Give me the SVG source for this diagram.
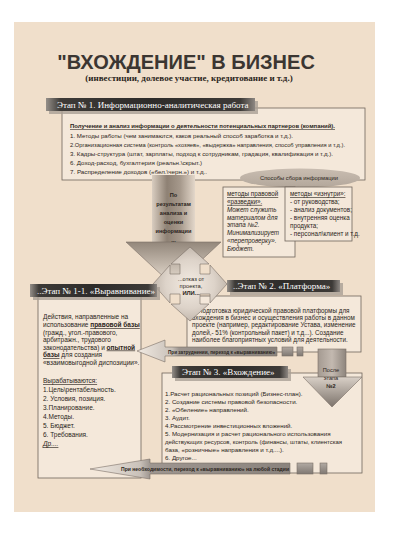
<svg xmlns="http://www.w3.org/2000/svg" width="416" height="554" viewBox="0 0 416 554">
<defs>
<style>
.t{font-family:"Liberation Sans","DejaVu Sans",sans-serif;fill:#2b2520}
.hd{font-family:"Liberation Serif","DejaVu Serif",serif;font-size:9px;fill:#ffffff}
.box{fill:#f4e8da;stroke:#6f645b;stroke-width:0.8}
.shadow{fill:#a99f95;opacity:0.8}
.bar{fill:url(#barG)}
.u{text-decoration:underline}
.b{font-weight:bold}
.i{font-style:italic}
.arr{stroke:#7a6f66;stroke-width:0.6}
</style>
<linearGradient id="barG" x1="0" y1="0" x2="1" y2="0">
<stop offset="0" stop-color="#958f89"/>
<stop offset="0.07" stop-color="#3d3a37"/>
<stop offset="0.5" stop-color="#2e2c2a"/>
<stop offset="0.93" stop-color="#3d3a37"/>
<stop offset="1" stop-color="#8d8782"/>
</linearGradient>
<linearGradient id="shaftG" x1="0" y1="0" x2="1" y2="0">
<stop offset="0" stop-color="#d9cdc0"/>
<stop offset="0.35" stop-color="#8e8174"/>
<stop offset="0.65" stop-color="#a5988b"/>
<stop offset="1" stop-color="#e3d7ca"/>
</linearGradient>
<linearGradient id="headG" x1="0" y1="0" x2="0" y2="1">
<stop offset="0" stop-color="#93877b"/>
<stop offset="1" stop-color="#efe5d9"/>
</linearGradient>
<linearGradient id="head2G" x1="0" y1="0" x2="0" y2="1">
<stop offset="0" stop-color="#d9d0c7"/>
<stop offset="1" stop-color="#7c736b"/>
</linearGradient>
<linearGradient id="shaft2G" x1="0" y1="0" x2="1" y2="0">
<stop offset="0" stop-color="#a49a91"/>
<stop offset="0.5" stop-color="#c3b9b0"/>
<stop offset="1" stop-color="#8e857d"/>
</linearGradient>
<linearGradient id="leftG" x1="0" y1="0" x2="1" y2="0">
<stop offset="0" stop-color="#f2ebe3"/>
<stop offset="0.25" stop-color="#c9c1b9"/>
<stop offset="0.3" stop-color="#9e9690"/>
<stop offset="1" stop-color="#8a837d"/>
</linearGradient>
<radialGradient id="crossG" cx="0.5" cy="0.5" r="0.6">
<stop offset="0" stop-color="#f3ebe2"/>
<stop offset="0.55" stop-color="#ddd3c9"/>
<stop offset="1" stop-color="#b4a99e"/>
</radialGradient>
<linearGradient id="ellG" x1="0" y1="0" x2="0" y2="1">
<stop offset="0" stop-color="#c9bdb1"/>
<stop offset="1" stop-color="#b3a79b"/>
</linearGradient>
<linearGradient id="sqG" x1="0" y1="0" x2="0" y2="1">
<stop offset="0" stop-color="#b2aaa3"/>
<stop offset="1" stop-color="#7f7872"/>
</linearGradient>
</defs>

<rect x="14" y="22" width="361" height="490" fill="#f0dfcb"/>

<g id="title">
<text class="t b" x="186" y="69" font-size="20" text-anchor="middle" style="fill:#3b3632">"ВХОЖДЕНИЕ" В БИЗНЕС</text>
<text x="189" y="81" font-family="Liberation Serif, DejaVu Serif, serif" font-weight="bold" font-size="9" text-anchor="middle" fill="#2b2520">(инвестиции, долевое участие, кредитование и т.д.)</text>
</g>

<g id="stage1">
<rect class="box" x="62" y="108" width="303" height="72"/>
<rect class="shadow" x="49" y="101" width="209" height="13"/>
<rect class="bar" x="46" y="98" width="209" height="13"/>
<text class="hd" x="57" y="108">Этап № 1. Информационно-аналитическая работа</text>
<g class="t" font-size="5.8">
<text class="b u" x="70" y="128" textLength="265" lengthAdjust="spacingAndGlyphs">Получение и анализ  информации о деятельности потенциальных партнеров (компаний).</text>
<text x="70" y="137.5" textLength="223" lengthAdjust="spacingAndGlyphs">1. Методы работы (чем занимаются, каков реальный способ заработка и т.д.).</text>
<text x="70" y="147" textLength="275" lengthAdjust="spacingAndGlyphs">2.Организационная система (контроль «хозяев», «выдержка» направления, способ управления и т.д.).</text>
<text x="70" y="156" textLength="263" lengthAdjust="spacingAndGlyphs">3. Кадры-структура (штат, зарплаты, подход к сотрудникам, градация, квалификация и т.д.).</text>
<text x="70" y="165" textLength="132" lengthAdjust="spacingAndGlyphs">6. Доход-расход, бухгалтерия (реальн.\скрыт.)</text>
<text x="70" y="173.5" textLength="137" lengthAdjust="spacingAndGlyphs">7. Распределение доходов («бел.\черн.») и т.д..</text>
</g>
</g>

<g id="methods-label">
<ellipse cx="300" cy="178" rx="60" ry="9.5" fill="url(#ellG)"/>
<text class="t" x="299" y="180" font-size="5.8" text-anchor="middle">Способы сбора информации</text>
</g>

<g id="methods-legal">
<rect class="box" x="223" y="187" width="72" height="70"/>
<g class="t" font-size="6.3">
<text class="u" x="227" y="196">методы правовой</text>
<text class="u" x="227" y="203.9">«разведки».</text>
<text class="i" x="227" y="211.7">Может служить</text>
<text class="i" x="227" y="219.6">материалом для</text>
<text class="i" x="227" y="227.4">этапа №2.</text>
<text class="i" x="227" y="235.3">Минимализирует</text>
<text class="i" x="227" y="243.1">«перепроверку».</text>
<text class="i" x="227" y="251">Бюджет.</text>
</g>
</g>

<g id="methods-inside">
<rect class="box" x="285" y="187" width="67" height="54"/>
<g class="t" font-size="6.3">
<text class="u" x="290" y="196">методы «изнутри»:</text>
<text x="290" y="204">- от руководства;</text>
<text x="290" y="212">- анализ документов;</text>
<text x="290" y="220">- внутренняя оценка</text>
<text x="290" y="228">продукта;</text>
<text x="290" y="236">- персонал\клиент и т.д.</text>
</g>
</g>

<g id="stage1-1">
<rect class="box" x="38" y="292" width="103" height="186"/>
<g class="t" font-size="6.5">
<text x="43" y="319">Действия, направленные на</text>
<text x="43" y="327">использование <tspan class="b u">правовой базы</tspan></text>
<text x="43" y="334.5">(гражд., угол.-правового,</text>
<text x="43" y="342">арбитражн., трудового</text>
<text x="43" y="349.5">законодательства) и <tspan class="b u">опытной</tspan></text>
<text x="43" y="357"><tspan class="b u">базы</tspan>  для создания</text>
<text x="43" y="365">«взаимовыгодной диспозиции».</text>
<text class="u" x="43" y="383">Вырабатываются:</text>
<text x="43" y="392">1.Цель\рентабельность.</text>
<text x="43" y="401">2. Условия, позиция.</text>
<text x="43" y="410">3.Планирование.</text>
<text x="43" y="419">4.Методы.</text>
<text x="43" y="428">5. Бюджет.</text>
<text x="43" y="437">6. Требования.</text>
<text class="u i" x="43" y="446">Др....</text>
</g>
</g>

<g id="stage2">
<rect class="box" x="187" y="296" width="174" height="56"/>
<g class="t" font-size="6.3">
<text x="198" y="312.7">Подготовка юридической правовой платформы для</text>
<text x="192" y="320">вхождения в бизнес и осуществления работы в данном</text>
<text x="192" y="327.2">проекте (например, редактирование Устава, изменение</text>
<text x="192" y="334.5">долей,- 51% (контрольный пакет) и т.д...). Создание</text>
<text x="192" y="341.7">наиболее благоприятных условий для деятельности.</text>
</g>
</g>

<g id="stage3">
<rect class="box" x="162" y="373" width="200" height="100"/>
<g class="t" font-size="6.2">
<text x="165" y="396">1.Расчет рациональных позиций (Бизнес-план).</text>
<text x="165" y="404">2. Создание системы правовой безопасности.</text>
<text x="165" y="412">2. «Обеление» направлений.</text>
<text x="165" y="420">3. Аудит.</text>
<text x="165" y="428">4.Рассмотрение инвестиционных вложений.</text>
<text x="165" y="436">5. Модернизация и расчет рационального использования</text>
<text x="165" y="444" textLength="177" lengthAdjust="spacingAndGlyphs">действующих ресурсов, контроль (финансы, штаты, клиентская</text>
<text x="165" y="452">база, «розничные» направления и т.д....).</text>
<text x="165" y="460">6. Другое...</text>
</g>
</g>

<g id="connectors">
<g id="arrow-results">
<rect x="152" y="175" width="43" height="68" fill="url(#shaftG)"/>
<polygon points="126,242 221,242 173.5,286" fill="url(#headG)" class="arr"/>
<g class="t b" font-size="5.6" text-anchor="middle">
<text x="173.5" y="197">По</text>
<text x="173.5" y="206">результатам</text>
<text x="173.5" y="215">анализа  и</text>
<text x="173.5" y="224">оценки</text>
<text x="173.5" y="233">информации</text>
<text x="173.5" y="242">...</text>
</g>
</g>
<g id="arrow-refuse">
<polygon points="190,247 209,264 200,264 200,274 210,274 210,265 227,284 210,303 210,294 200,294 200,304 209,304 190,321 171,304 180,304 180,294 170,294 170,303 153,284 170,265 170,274 180,274 180,264 171,264" fill="url(#crossG)" class="arr"/>
<g class="t" font-size="5.8" text-anchor="middle">
<text x="191" y="281">...отказ от</text>
<text x="191" y="288">проекта,</text>
<text class="b" x="191" y="295">ИЛИ...</text>
</g>
</g>
<g id="arrow-difficulty">
<polygon points="137,351 165,340 165,347 277,347 277,356 165,356 165,362" fill="url(#leftG)" class="arr"/>
<rect x="282" y="347" width="11" height="9" fill="url(#sqG)" class="arr"/>
<rect x="297" y="347" width="6" height="9" fill="url(#sqG)" class="arr"/>
<text class="t b" x="168" y="353.5" font-size="4.8" textLength="107" lengthAdjust="spacingAndGlyphs">При затруднении, переход к «выравниванию»</text>
</g>
<g id="arrow-after2">
<rect x="318" y="349" width="28" height="28" fill="url(#shaft2G)" class="arr"/>
<polygon points="303,377 362,377 332,407" fill="url(#head2G)" class="arr"/>
<g class="t" font-size="5.6" text-anchor="middle">
<text x="331" y="372">После</text>
<text x="331" y="380">этапа</text>
<text class="b" x="331" y="388">№2</text>
</g>
</g>
<g id="arrow-anystage">
<polygon points="90,469 150,459 150,463 290,463 290,474 150,474 150,479" fill="url(#leftG)" class="arr"/>
<rect x="297" y="463" width="16" height="11" fill="url(#sqG)" class="arr"/>
<rect x="320" y="463" width="7" height="11" fill="url(#sqG)" class="arr"/>
<text class="t b" x="121" y="470.5" font-size="5" textLength="168" lengthAdjust="spacingAndGlyphs">При необходимости, переход к «выравниванию» на любой стадии</text>
</g>
</g>

<g id="stage1-1-header">
<rect class="shadow" x="33" y="287" width="127" height="13"/>
<rect class="bar" x="30" y="284" width="127" height="13"/>
<text class="hd" x="37" y="294">..Этап № 1-1. «Выравнивание»</text>
</g>
<g id="stage2-header">
<rect class="shadow" x="230" y="283" width="113" height="12"/>
<rect class="bar" x="227" y="280" width="113" height="12"/>
<text class="hd" x="233" y="289">..Этап № 2.  «Платформа»</text>
</g>
<g id="stage3-header">
<rect class="shadow" x="175" y="369" width="116" height="12"/>
<rect class="bar" x="172" y="366" width="116" height="12"/>
<text class="hd" x="182" y="375">Этап № 3.  «Вхождение»</text>
</g>
</svg>
